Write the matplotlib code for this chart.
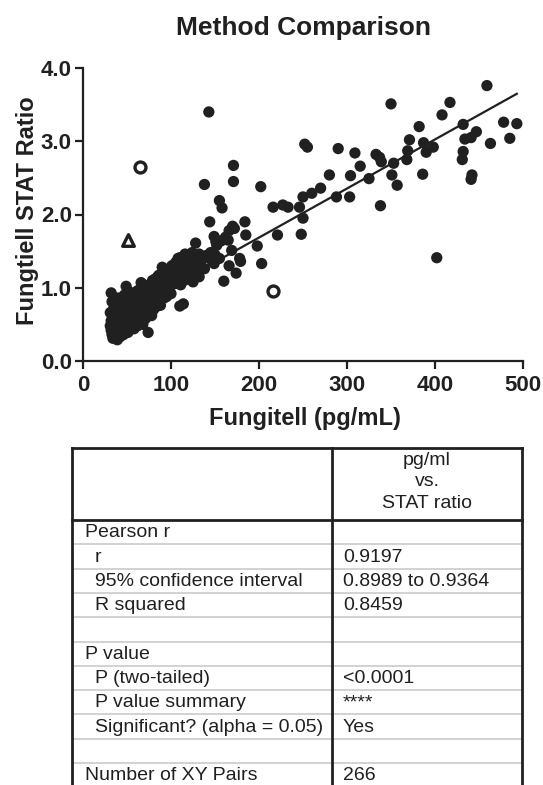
import numpy as np
import matplotlib
matplotlib.use("Agg")
import matplotlib.pyplot as plt

plt.rcParams["font.family"] = ["Liberation Sans", "DejaVu Sans"]

# ---- data ----
# dense low-concentration cluster (pg/mL, STAT ratio)
cluster_points = [
    (32, 0.93), (33, 0.81), (31, 0.66), (32, 0.55), (31, 0.48), (32, 0.42), (33, 0.36), (34, 0.31),
    (35, 0.60), (35, 0.72), (36, 0.50), (36, 0.40), (37, 0.34), (37, 0.65), (38, 0.56), (38, 0.78),
    (39, 0.29), (39, 0.45), (40, 0.62), (40, 0.86), (41, 0.38), (41, 0.52), (42, 0.70), (42, 0.33),
    (43, 0.58), (43, 0.47), (44, 0.80), (44, 0.41), (45, 0.66), (45, 0.55), (46, 0.36), (46, 0.74),
    (47, 0.90), (47, 0.49), (48, 0.60), (48, 0.43), (49, 1.02), (49, 0.68), (50, 0.52), (50, 0.84),
    (51, 0.39), (51, 0.72), (52, 0.58), (52, 0.95), (53, 0.46), (53, 0.66), (54, 0.78), (54, 0.55),
    (55, 0.62), (55, 0.88), (56, 0.48), (56, 0.70), (57, 0.82), (57, 0.59), (58, 0.44), (58, 0.92),
    (59, 0.66), (59, 0.75), (60, 0.53), (60, 0.85), (61, 0.70), (61, 0.62), (62, 0.96), (62, 0.48),
    (63, 0.78), (63, 0.58), (64, 0.88), (64, 0.67), (65, 0.54), (65, 0.74), (66, 1.07), (66, 0.82),
    (67, 0.62), (67, 0.93), (68, 0.72), (68, 0.50), (69, 0.86), (69, 1.04), (70, 0.66), (70, 0.78),
    (71, 0.95), (71, 0.58), (72, 0.84), (72, 0.70), (73, 1.00), (73, 0.62), (74, 0.39), (74, 0.90),
    (75, 0.76), (75, 0.68), (76, 0.98), (76, 0.84), (77, 0.72), (77, 1.05), (78, 0.92), (78, 0.62),
    (79, 0.80), (79, 1.10), (80, 0.88), (80, 0.70), (81, 1.00), (81, 0.78), (82, 1.12), (82, 0.86),
    (83, 0.94), (83, 0.74), (84, 1.05), (84, 0.82), (85, 0.92), (85, 1.15), (86, 1.17), (86, 0.80),
    (87, 1.00), (87, 0.88), (88, 1.08), (88, 0.76), (89, 0.96), (89, 1.18), (90, 1.28), (90, 0.90),
    (91, 1.04), (91, 1.12), (92, 0.86), (92, 0.98), (93, 1.20), (93, 1.08), (94, 0.95), (94, 1.14),
    (95, 1.02), (95, 0.88), (96, 1.22), (96, 1.10), (97, 0.98), (97, 1.16), (98, 1.06), (98, 1.26),
    (99, 1.12), (100, 0.92), (100, 1.20), (101, 1.04), (101, 1.30), (102, 1.14), (103, 1.24),
    (104, 1.10), (105, 1.34), (105, 1.18), (106, 1.06), (107, 1.28), (108, 1.40), (108, 1.10),
    (109, 1.22), (110, 1.41), (110, 0.75), (111, 1.30), (111, 1.04), (112, 1.18), (113, 1.36),
    (114, 0.78), (114, 1.24), (115, 1.10), (116, 1.46), (116, 1.30), (117, 1.20), (118, 1.38),
    (119, 1.14), (120, 1.28), (121, 1.45), (122, 1.22), (123, 1.34), (124, 1.48), (125, 1.08),
    (126, 1.30), (127, 1.40), (128, 1.61), (128, 1.20), (130, 1.36), (132, 1.15), (132, 1.46),
    (134, 1.30), (136, 1.40), (138, 1.26), (140, 1.44),
]

# scattered points above ~140 pg/mL
upper_points = [
    (138, 2.41), (143, 3.40), (143, 1.41), (144, 1.90), (145, 1.48), (147, 1.36), (149, 1.70),
    (149, 1.33), (150, 1.45), (151, 1.63), (152, 1.58), (155, 2.19), (155, 1.40), (157, 1.64),
    (158, 2.09), (160, 1.09), (162, 1.69), (165, 1.65), (166, 1.78), (166, 1.30), (169, 1.51),
    (170, 1.84), (171, 2.67), (171, 2.45), (172, 1.81), (174, 1.20), (178, 1.40), (179, 1.36),
    (184, 1.90), (185, 1.72), (198, 1.57), (202, 2.38), (203, 1.33), (216, 2.10), (221, 1.72),
    (227, 2.13), (233, 2.10), (246, 2.10), (248, 1.73), (250, 1.95), (250, 2.24), (252, 2.96),
    (255, 2.92), (260, 2.29), (270, 2.36), (280, 2.54), (288, 2.24), (290, 2.90), (303, 2.24),
    (304, 2.53), (309, 2.84), (315, 2.66), (325, 2.49), (333, 2.82), (337, 2.78), (339, 2.72),
    (338, 2.12), (350, 3.51), (351, 2.54), (353, 2.70), (357, 2.40), (368, 2.75), (369, 2.87),
    (371, 3.02), (382, 3.20), (386, 2.55), (387, 2.98), (390, 2.85), (398, 2.92), (402, 1.41),
    (408, 3.36), (417, 3.53), (431, 2.75), (432, 3.23), (432, 2.86), (434, 3.03), (441, 3.05),
    (442, 2.54), (441, 2.48), (447, 3.13), (459, 3.76), (463, 2.97), (478, 3.26), (485, 3.04),
    (493, 3.24),
]

# excluded points drawn open
open_circle_x = [65, 216]
open_circle_y = [2.65, 0.95]
open_triangle_x = [51]
open_triangle_y = [1.65]

# regression line as drawn
fit_slope = 0.0067
fit_intercept = 0.345

x_ticks = [0, 100, 200, 300, 400, 500]
y_ticks = [0.0, 1.0, 2.0, 3.0, 4.0]

# results table
header_lines = ["pg/ml", "vs.", "STAT ratio"]
row_labels = ["Pearson r", "r", "95% confidence interval", "R squared", "",
              "P value", "P (two-tailed)", "P value summary",
              "Significant? (alpha = 0.05)", "", "Number of XY Pairs"]
row_values = ["", "0.9197", "0.8989 to 0.9364", "0.8459", "",
              "", "<0.0001", "****", "Yes", "", "266"]
row_indent = [0, 1, 1, 1, 0, 0, 1, 1, 1, 0, 0]

# ---- figure ----
W, H = 543, 785
fig = plt.figure(figsize=(W / 100, H / 100), dpi=100)
fig.patch.set_facecolor("white")
ink = "#202020"

ax = fig.add_axes([83 / W, 1 - 361 / H, 440 / W, 293 / H])
pts = cluster_points + upper_points
fx = np.array([p[0] for p in pts], dtype=float)
fy = np.array([p[1] for p in pts], dtype=float)

ax.scatter(fx, fy, s=66, color=ink, edgecolors="none", zorder=3, clip_on=False)
ax.scatter(open_circle_x, open_circle_y, s=62, facecolors="white", edgecolors=ink,
           linewidths=2.4, zorder=4, clip_on=False)
ax.scatter(open_triangle_x, open_triangle_y, s=70, marker="^", facecolors="white",
           edgecolors=ink, linewidths=2.4, zorder=4, clip_on=False)

lx = np.array([fx.min(), fx.max()])
ax.plot(lx, fit_intercept + fit_slope * lx, color=ink, lw=1.6, zorder=5)

ax.set_xlim(0, 500)
ax.set_ylim(0, 4.0)
ax.set_xticks(x_ticks)
ax.set_yticks(y_ticks)
ax.set_yticklabels([f"{v:.1f}" for v in y_ticks])
for s in ["top", "right"]:
    ax.spines[s].set_visible(False)
for s in ["left", "bottom"]:
    ax.spines[s].set_linewidth(1.6)
    ax.spines[s].set_color(ink)
ax.tick_params(axis="both", direction="out", length=6, width=1.6, color=ink,
               labelsize=16, labelcolor=ink)
ax.tick_params(axis="x", pad=4)
ax.tick_params(axis="y", pad=2)
for lab in ax.get_xticklabels() + ax.get_yticklabels():
    lab.set_fontweight("bold")

fig.text(303 / W, 1 - 35 / H, "Method Comparison", ha="center", va="baseline",
         fontsize=19, fontweight="bold", color=ink)
fig.text(305 / W, 1 - 425 / H, "Fungitell (pg/mL)", ha="center", va="baseline",
         fontsize=17, fontweight="bold", color=ink)
fig.text(28 / W, 1 - 211 / H, "Fungtiell STAT Ratio", ha="center", va="center",
         rotation=90, fontsize=17, fontweight="bold", color=ink)

# ---- table ----
t_left, t_right, t_mid, t_top = 72, 522, 332, 448
header_h, row_h = 72, 24.3
tab = fig.add_axes([t_left / W, 0, (t_right - t_left) / W, (H - t_top) / H])
tab.set_xlim(t_left, t_right)
tab.set_ylim(H, t_top)
tab.axis("off")

y0 = t_top + header_h
for i in range(len(row_labels)):
    yb = y0 + (i + 1) * row_h
    if i < len(row_labels) - 1:
        tab.plot([t_left, t_right], [yb, yb], color="#cfcfcf", lw=1.3, zorder=1)
    tx = t_left + (23 if row_indent[i] else 13)
    tab.text(tx, yb - 7, row_labels[i], ha="left", va="baseline", fontsize=14, color=ink)
    tab.text(t_mid + 11, yb - 7, row_values[i], ha="left", va="baseline", fontsize=14,
             color=ink)

for k, line in enumerate(header_lines):
    tab.text((t_mid + t_right) / 2, t_top + 17 + k * 21.5, line, ha="center",
             va="baseline", fontsize=14, color=ink)

bw = 2.0
tab.plot([t_left, t_right], [t_top, t_top], color=ink, lw=bw, clip_on=False, zorder=3)
tab.plot([t_left, t_right], [y0, y0], color=ink, lw=bw, clip_on=False, zorder=3)
tab.plot([t_left, t_left], [t_top, H], color=ink, lw=bw, clip_on=False, zorder=3)
tab.plot([t_right, t_right], [t_top, H], color=ink, lw=bw, clip_on=False, zorder=3)
tab.plot([t_mid, t_mid], [t_top, H], color=ink, lw=bw, clip_on=False, zorder=3)

fig.savefig("out.png", dpi=100, facecolor="white")
